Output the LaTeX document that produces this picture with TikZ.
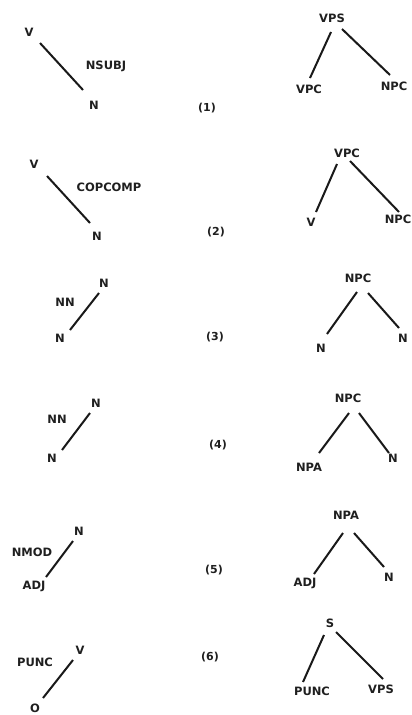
\documentclass[tikz,border=0pt]{standalone}
\usepackage{fontspec}
\setmainfont{DejaVu Sans}
\begin{document}
\begin{tikzpicture}[x=1pt,y=-1pt,
  lbl/.style={inner sep=0pt,text=black!88,font=\bfseries\fontsize{11.5}{12}\selectfont},
  num/.style={inner sep=0pt,text=black!88,font=\bfseries\fontsize{11}{12}\selectfont},
  edge/.style={line width=2pt,black!90}]
\fill[white] (0,0) rectangle (412,715);
\useasboundingbox (0,0) rectangle (412,715);
% ---------- left column ----------
\node[lbl] (v1) at (29,32) {V};
\node[lbl] (nsubj) at (106,66) {NSUBJ};
\node[lbl] (n1) at (94,105) {N};
\draw[edge] ([shift={(11,11)}]v1.center) -- ([shift={(-11,-15)}]n1.center);

\node[lbl] (v2) at (34,164) {V};
\node[lbl] (copcomp) at (109,187) {COPCOMP};
\node[lbl] (n2) at (97,236) {N};
\draw[edge] ([shift={(13,12)}]v2.center) -- ([shift={(-7,-13)}]n2.center);

\node[lbl] (n3a) at (104,283) {N};
\node[lbl] (nn3) at (65,302) {NN};
\node[lbl] (n3b) at (60,338) {N};
\draw[edge] ([shift={(-5,10)}]n3a.center) -- ([shift={(10,-8)}]n3b.center);

\node[lbl] (n4a) at (96,403) {N};
\node[lbl] (nn4) at (57,419) {NN};
\node[lbl] (n4b) at (52,458) {N};
\draw[edge] ([shift={(-6,10)}]n4a.center) -- ([shift={(10,-8)}]n4b.center);

\node[lbl] (n5) at (79,531) {N};
\node[lbl] (nmod) at (32,552) {NMOD};
\node[lbl] (adj5) at (34,586) {ADJ};
\draw[edge] ([shift={(-6,10)}]n5.center) -- ([shift={(12,-9)}]adj5.center);

\node[lbl] (v6) at (80,650) {V};
\node[lbl] (punc6) at (35,662) {PUNC};
\node[lbl] (o6) at (35,708) {O};
\draw[edge] ([shift={(-7,10)}]v6.center) -- ([shift={(8,-10)}]o6.center);

% ---------- numbers ----------
\node[num] (k1) at (207,108) {(1)};
\node[num] (k2) at (216,232) {(2)};
\node[num] (k3) at (215,337) {(3)};
\node[num] (k4) at (218,445) {(4)};
\node[num] (k5) at (214,570) {(5)};
\node[num] (k6) at (210,657) {(6)};

% ---------- right column ----------
\node[lbl] (vps) at (332,18) {VPS};
\node[lbl] (vpc1) at (309,89) {VPC};
\node[lbl] (npc1) at (394,86) {NPC};
\draw[edge] ([shift={(-1,14)}]vps.center) -- ([shift={(1,-11)}]vpc1.center);
\draw[edge] ([shift={(10,11)}]vps.center) -- ([shift={(-4,-11)}]npc1.center);

\node[lbl] (vpc2) at (347,153) {VPC};
\node[lbl] (v2r) at (311,222) {V};
\node[lbl] (npc2) at (398,219) {NPC};
\draw[edge] ([shift={(-10,11)}]vpc2.center) -- ([shift={(5,-10)}]v2r.center);
\draw[edge] ([shift={(3,8)}]vpc2.center) -- ([shift={(1,-7)}]npc2.center);

\node[lbl] (npc3) at (358,278) {NPC};
\node[lbl] (n3l) at (321,348) {N};
\node[lbl] (n3r) at (403,338) {N};
\draw[edge] ([shift={(-1,14)}]npc3.center) -- ([shift={(6,-14)}]n3l.center);
\draw[edge] ([shift={(10,15)}]npc3.center) -- ([shift={(-4,-10)}]n3r.center);

\node[lbl] (npc4) at (348,398) {NPC};
\node[lbl] (npa4) at (309,467) {NPA};
\node[lbl] (n4r) at (393,458) {N};
\draw[edge] ([shift={(1,15)}]npc4.center) -- ([shift={(10,-14)}]npa4.center);
\draw[edge] ([shift={(11,15)}]npc4.center) -- ([shift={(-4,-5)}]n4r.center);

\node[lbl] (npa5) at (346,515) {NPA};
\node[lbl] (adj5r) at (305,583) {ADJ};
\node[lbl] (n5r) at (389,577) {N};
\draw[edge] ([shift={(-3,18)}]npa5.center) -- ([shift={(9,-9)}]adj5r.center);
\draw[edge] ([shift={(8,18)}]npa5.center) -- ([shift={(-5,-10)}]n5r.center);

\node[lbl] (s6) at (330,623) {S};
\node[lbl] (punc6r) at (312,691) {PUNC};
\node[lbl] (vps6) at (381,689) {VPS};
\draw[edge] ([shift={(-6,12)}]s6.center) -- ([shift={(-9,-9)}]punc6r.center);
\draw[edge] ([shift={(6,9)}]s6.center) -- ([shift={(2,-10)}]vps6.center);
\end{tikzpicture}
\end{document}
